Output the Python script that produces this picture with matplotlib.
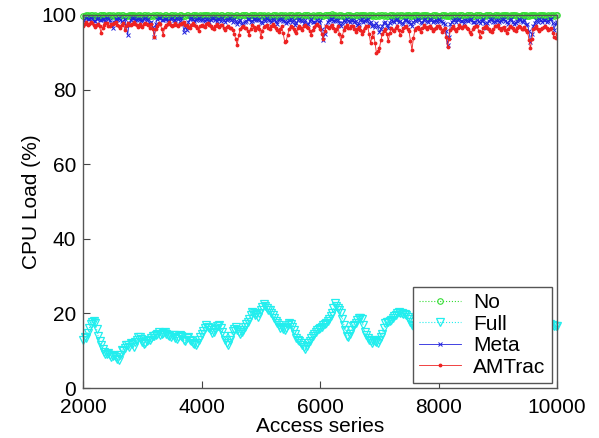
import numpy as np
import matplotlib
matplotlib.use("Agg")
import matplotlib.pyplot as plt

plt.rcParams['font.family'] = ['Liberation Sans', 'DejaVu Sans']

# CPU load (%) sampled every 25 accesses from 2000 to 10000
no_load = [
    99.8, 99.6, 100.0, 99.9, 99.7, 100.1, 99.9, 99.7, 100.0, 99.8, 99.6, 99.9, 99.9, 100.1, 100.0, 99.7, 99.8, 99.9, 99.9, 99.6,
    100.0, 99.8, 99.7, 100.1, 99.9, 99.6, 100.0, 99.9, 99.8, 99.7, 99.6, 99.9, 99.9, 100.1, 100.0, 99.8, 99.7, 99.9, 99.9, 99.6,
    99.8, 100.0, 100.0, 99.7, 99.9, 99.8, 99.6, 100.0, 99.8, 99.9, 100.0, 99.7, 99.9, 99.6, 99.7, 100.1, 100.0, 99.8, 99.8, 99.9,
    99.9, 99.6, 100.0, 99.8, 99.7, 100.1, 99.9, 99.8, 99.8, 99.6, 100.0, 99.9, 99.6, 99.8, 99.9, 100.1, 100.0, 99.7, 99.8, 99.9,
    99.7, 99.9, 99.9, 100.1, 100.0, 99.7, 99.8, 99.9, 99.9, 99.6, 100.0, 99.8, 99.7, 100.0, 99.9, 99.6, 99.8, 100.0, 100.0, 99.7,
    99.9, 99.8, 99.7, 100.0, 100.0, 99.6, 99.8, 99.9, 99.9, 100.1, 100.0, 99.7, 99.6, 99.9, 99.9, 100.0, 100.0, 99.7, 99.8, 99.9,
    99.9, 99.7, 100.0, 99.8, 99.8, 100.1, 99.7, 99.6, 100.0, 99.9, 99.9, 99.7, 99.8, 100.0, 100.0, 99.8, 99.9, 99.6, 99.7, 99.9,
    100.0, 99.9, 99.8, 99.7, 99.9, 100.1, 100.0, 99.8, 99.7, 99.9, 99.9, 100.0, 100.0, 99.7, 99.8, 99.9, 99.6, 99.8, 99.9, 100.1,
    100.0, 99.7, 99.8, 99.9, 99.9, 100.0, 100.0, 99.8, 100.2, 100.0, 99.9, 99.7, 99.8, 99.9, 100.0, 99.8, 99.7, 99.6, 99.9, 100.0,
    100.0, 99.8, 99.8, 99.6, 99.9, 100.0, 99.7, 99.9, 100.0, 100.1, 99.9, 99.7, 99.8, 99.9, 100.0, 99.8, 99.9, 99.6, 99.7, 99.9,
    99.8, 99.9, 100.0, 99.8, 99.9, 99.6, 99.7, 99.9, 100.0, 100.1, 99.8, 99.7, 99.9, 99.8, 100.0, 100.0, 99.8, 99.6, 99.9, 99.9,
    100.0, 99.8, 99.7, 99.9, 99.9, 100.1, 100.0, 99.7, 99.8, 99.9, 99.9, 100.0, 100.0, 99.6, 99.7, 99.8, 99.9, 100.1, 100.0, 99.8,
    99.8, 99.7, 99.9, 100.0, 100.0, 99.8, 99.7, 99.6, 99.9, 99.8, 100.0, 100.1, 99.8, 99.7, 99.9, 99.9, 100.0, 99.8, 99.8, 99.9,
    99.9, 100.0, 100.0, 99.7, 99.7, 99.9, 99.9, 100.1, 100.0, 99.8, 99.8, 99.7, 99.9, 99.9, 100.0, 100.0, 99.8, 99.6, 99.9, 100.0,
    100.0, 99.8, 99.8, 99.9, 99.9, 100.1, 100.0, 99.7, 99.7, 99.9, 99.9, 100.0, 100.0, 99.8, 99.8, 99.7, 99.9, 99.9, 100.0, 100.1,
    99.8, 99.7, 99.9, 99.9, 100.0, 100.0, 99.7, 99.8, 99.9, 99.9, 100.0, 100.1, 99.8, 99.7, 99.9, 99.8, 100.0, 99.9, 99.8, 99.9,
    100.0,
]

full_load = [
    12.9, 13.6, 13.5, 14.8, 16.0, 17.2, 17.8, 18.0, 17.5, 15.8, 14.0, 12.6, 11.5, 10.4, 9.7, 9.2, 9.0, 9.3, 8.8, 8.4,
    8.5, 8.9, 8.2, 7.8, 7.5, 8.8, 10.3, 10.0, 10.8, 11.6, 11.5, 11.0, 12.0, 11.8, 11.0, 12.3, 13.0, 13.8, 13.7, 13.1,
    12.4, 11.9, 12.0, 12.6, 13.0, 12.8, 13.5, 13.9, 14.0, 14.2, 14.6, 14.9, 14.2, 14.5, 14.8, 15.0, 14.6, 14.2, 14.0, 13.7,
    14.3, 14.1, 13.5, 13.2, 13.7, 14.3, 14.0, 13.6, 13.0, 12.7, 13.3, 13.8, 13.0, 12.5, 12.2, 11.8, 11.5, 12.0, 13.0, 13.8,
    14.5, 15.2, 16.0, 16.8, 16.4, 16.0, 15.5, 14.8, 15.1, 15.8, 16.5, 16.7, 16.9, 16.0, 15.0, 14.0, 13.0, 12.0, 11.5, 12.8,
    14.0, 15.2, 15.9, 16.4, 15.5, 14.9, 14.6, 15.0, 15.5, 16.3, 17.3, 17.8, 18.5, 19.6, 20.4, 20.0, 19.5, 19.8, 19.1, 20.2,
    21.0, 21.8, 22.4, 22.0, 21.5, 21.0, 20.9, 20.2, 19.5, 18.8, 18.0, 17.5, 16.8, 16.2, 16.4, 15.8, 15.5, 16.2, 17.0, 17.5,
    17.3, 16.4, 15.5, 14.5, 13.5, 13.0, 12.5, 12.0, 11.5, 11.0, 10.6, 11.3, 12.0, 12.7, 13.5, 14.0, 14.5, 14.9, 15.5, 15.8,
    16.0, 16.3, 16.9, 17.2, 17.5, 18.0, 18.5, 19.2, 20.0, 21.4, 22.8, 22.0, 21.5, 20.8, 20.0, 18.5, 17.0, 15.5, 14.0, 13.8,
    14.5, 15.5, 16.5, 17.0, 17.5, 18.2, 18.7, 18.9, 18.5, 16.8, 15.0, 14.2, 13.5, 13.0, 12.5, 12.2, 12.8, 12.5, 12.4, 12.0,
    12.9, 13.6, 14.5, 16.0, 17.5, 17.6, 17.8, 18.0, 18.2, 18.8, 19.3, 19.6, 20.0, 20.3, 20.2, 20.0, 19.8, 19.9, 19.5, 19.0,
    18.5, 17.8, 17.0, 16.5, 16.0, 15.4, 15.0, 15.8, 16.5, 17.2, 18.0, 18.6, 19.0, 18.5, 18.0, 17.0, 16.0, 15.2, 14.5, 14.0,
    13.5, 14.2, 15.0, 15.8, 16.5, 17.0, 17.5, 18.3, 19.0, 19.8, 20.5, 20.0, 19.5, 18.8, 18.0, 17.2, 16.5, 15.8, 15.0, 14.5,
    14.0, 14.8, 15.5, 16.2, 17.0, 17.5, 18.0, 17.5, 17.0, 16.2, 15.5, 15.0, 14.5, 13.8, 13.0, 13.5, 14.0, 14.8, 15.5, 16.2,
    17.0, 17.8, 18.5, 19.0, 19.5, 18.8, 18.0, 17.2, 16.5, 15.8, 15.0, 14.5, 14.0, 14.5, 15.0, 15.5, 16.0, 16.8, 17.5, 18.0,
    18.5, 18.0, 17.5, 16.8, 16.0, 15.5, 15.0, 14.8, 14.5, 15.0, 15.5, 16.0, 16.5, 17.0, 17.5, 17.2, 17.0, 16.8, 16.5, 16.5,
    16.5,
]

meta_load = [
    98.6, 98.2, 99.2, 98.9, 98.8, 99.3, 99.0, 98.4, 98.3, 98.8, 99.1, 98.6, 98.5, 99.0, 98.9, 98.1, 99.3, 98.8, 98.7, 97.6,
    96.5, 98.2, 98.8, 99.0, 99.1, 98.6, 98.4, 97.8, 99.0, 97.2, 94.6, 97.9, 98.7, 99.1, 99.2, 98.5, 98.6, 98.9, 99.0, 98.3,
    98.5, 98.9, 99.1, 98.6, 98.8, 97.5, 98.2, 96.8, 94.2, 97.6, 98.9, 99.2, 99.2, 98.7, 98.6, 99.0, 99.0, 98.5, 98.4, 98.9,
    99.1, 98.6, 98.7, 99.2, 98.9, 98.4, 99.3, 97.8, 95.5, 96.8, 96.0, 98.2, 98.8, 99.1, 99.0, 98.4, 98.5, 98.9, 99.1, 98.5,
    98.7, 99.0, 98.3, 98.8, 99.0, 98.2, 98.6, 99.1, 99.2, 98.5, 98.4, 98.9, 98.8, 98.3, 99.1, 98.7, 98.2, 98.6, 98.9, 99.1,
    98.5, 98.1, 98.9, 98.4, 97.5, 98.2, 98.7, 97.9, 97.0, 98.0, 98.3, 98.8, 98.9, 98.2, 98.4, 98.8, 99.0, 98.5, 98.6, 98.9,
    98.2, 97.8, 98.8, 98.4, 99.1, 98.7, 98.5, 98.0, 98.9, 98.6, 98.3, 97.6, 98.7, 98.9, 99.0, 98.3, 98.4, 97.9, 98.1, 98.6,
    98.8, 98.2, 98.5, 97.4, 97.9, 98.5, 98.9, 98.6, 98.3, 97.8, 98.6, 97.2, 97.5, 98.4, 98.8, 98.1, 98.2, 97.6, 98.7, 98.1,
    98.5, 96.2, 93.3, 94.8, 97.0, 98.1, 98.6, 98.9, 99.0, 98.4, 98.3, 98.7, 98.7, 97.9, 97.0, 97.8, 98.5, 98.2, 98.9, 98.4,
    98.2, 98.6, 98.7, 98.1, 98.4, 97.3, 97.6, 98.5, 98.8, 98.2, 98.3, 98.7, 98.9, 97.7, 98.0, 97.1, 97.2, 96.8, 97.8, 96.9,
    95.4, 96.2, 97.0, 97.9, 98.2, 97.4, 96.5, 97.8, 98.6, 98.4, 98.0, 98.7, 98.8, 98.1, 98.3, 97.9, 97.6, 98.5, 98.7, 98.3,
    98.2, 97.6, 97.0, 98.0, 98.6, 98.3, 98.9, 98.5, 98.1, 97.8, 98.7, 98.9, 98.4, 98.0, 98.9, 98.6, 98.0, 98.4, 98.6, 98.2,
    98.8, 98.4, 98.3, 97.9, 97.5, 95.6, 92.0, 94.2, 97.5, 98.1, 98.6, 98.9, 98.2, 98.5, 98.9, 98.3, 98.4, 97.9, 98.7, 98.5,
    98.3, 98.6, 98.8, 98.2, 98.0, 97.6, 98.6, 98.3, 97.8, 98.4, 98.9, 97.7, 96.5, 97.8, 98.4, 98.8, 98.8, 98.1, 98.2, 98.6,
    98.7, 98.2, 98.3, 98.8, 98.9, 98.4, 98.0, 97.6, 98.6, 98.9, 98.2, 97.5, 97.8, 98.3, 98.8, 98.5, 98.4, 98.0, 98.6, 97.4,
    97.5, 95.6, 92.8, 95.0, 97.0, 97.9, 98.5, 98.2, 98.8, 98.5, 98.2, 98.7, 98.7, 98.1, 98.4, 98.8, 98.9, 97.8, 96.0, 97.6,
    98.2,
]

amtrac_load = [
    97.0, 97.6, 98.0, 97.2, 97.5, 98.1, 97.8, 97.3, 96.8, 97.4, 97.5, 96.9, 95.1, 96.6, 97.2, 97.7, 97.8, 97.1, 96.9, 97.5,
    97.6, 97.9, 98.1, 97.4, 97.0, 96.5, 97.4, 97.9, 96.0, 96.9, 97.8, 97.3, 97.2, 97.6, 98.0, 97.5, 97.3, 96.7, 97.6, 97.1,
    96.8, 97.5, 97.9, 97.6, 97.2, 96.4, 97.5, 96.1, 94.2, 96.3, 97.0, 97.8, 97.6, 96.2, 94.6, 96.7, 97.3, 97.6, 98.0, 97.2,
    97.1, 97.4, 97.7, 97.2, 96.9, 97.6, 97.5, 97.9, 98.0, 97.4, 97.2, 96.8, 96.5, 97.3, 97.8, 97.4, 97.0, 96.4, 95.6, 96.9,
    97.4, 97.0, 96.8, 97.5, 97.7, 97.2, 97.0, 96.5, 96.2, 96.9, 97.5, 97.1, 96.8, 97.4, 97.3, 96.6, 96.0, 96.7, 97.1, 96.5,
    96.5, 96.0, 95.0, 93.5, 91.9, 94.6, 96.2, 96.8, 97.0, 96.6, 96.4, 95.8, 94.6, 96.3, 97.2, 96.8, 96.0, 96.5, 97.0, 96.2,
    94.0, 95.8, 96.8, 97.1, 97.2, 96.5, 96.1, 96.9, 97.5, 97.0, 96.6, 95.9, 95.5, 96.3, 96.9, 95.2, 92.8, 93.0, 94.5, 96.2,
    97.0, 96.7, 96.3, 95.8, 95.2, 96.4, 97.1, 96.5, 96.0, 96.9, 97.4, 96.8, 96.5, 95.6, 94.7, 95.9, 96.8, 97.2, 97.5, 96.9,
    96.2, 95.0, 93.5, 95.6, 97.0, 96.8, 96.4, 97.0, 97.3, 96.6, 95.8, 96.3, 96.9, 94.9, 92.8, 94.4, 96.0, 96.7, 97.2, 96.5,
    96.5, 96.9, 97.0, 96.2, 95.5, 96.3, 96.8, 95.9, 95.0, 95.8, 96.6, 96.9, 97.1, 95.0, 92.5, 94.0, 95.5, 92.6, 89.8, 90.3,
    91.0, 93.2, 95.0, 95.7, 96.2, 95.0, 93.0, 95.1, 96.5, 96.0, 95.8, 96.6, 97.0, 96.0, 94.5, 95.6, 96.4, 96.8, 97.0, 96.3,
    95.6, 93.0, 90.6, 93.8, 96.0, 96.5, 96.8, 96.1, 95.5, 96.4, 97.2, 96.7, 96.3, 96.8, 97.0, 96.4, 95.8, 96.3, 96.6, 97.0,
    97.1, 96.4, 95.5, 96.0, 96.4, 94.2, 91.4, 93.5, 96.0, 96.6, 96.9, 96.2, 95.6, 96.5, 97.2, 96.8, 96.5, 96.9, 97.0, 96.4,
    96.2, 95.5, 95.0, 96.1, 96.8, 97.0, 97.1, 95.8, 94.0, 95.4, 96.5, 96.8, 97.0, 96.6, 96.2, 95.6, 95.3, 96.2, 96.9, 97.1,
    97.2, 96.6, 96.0, 96.5, 96.7, 95.9, 95.2, 96.3, 97.0, 96.8, 96.4, 95.9, 95.6, 96.5, 97.1, 96.7, 96.3, 96.2, 96.8, 96.0,
    95.5, 93.4, 91.0, 93.6, 96.2, 96.6, 96.9, 96.3, 95.8, 96.1, 96.4, 96.8, 97.0, 96.4, 95.9, 96.2, 96.5, 95.2, 94.0, 93.8,
    95.0,
]

x_start, x_end = 2000, 10000


def xs(vals):
    return np.linspace(x_start, x_end, len(vals))


fig = plt.figure(figsize=(5.99, 4.38), dpi=100)
ax = fig.add_axes([0.139, 0.114, 0.791, 0.852])

ax.plot(xs(no_load), no_load, ls=':', lw=0.8, color='#33dd33', marker='o',
        ms=4, mfc='none', mew=0.8, label='No', clip_on=False)
ax.plot(xs(full_load), full_load, ls=':', lw=0.8, color='#22eeee', marker='v',
        ms=6, mfc='none', mew=0.9, label='Full', clip_on=False)
ax.plot(xs(meta_load), meta_load, ls='-', lw=0.6, color='#2222dd', marker='x',
        ms=3.5, mew=0.7, label='Meta')
ax.plot(xs(amtrac_load), amtrac_load, ls='-', lw=0.6, color='#ee2222', marker='.',
        ms=3.5, label='AMTrac')

ax.set_xlim(2000, 10000)
ax.set_ylim(0, 100)
ax.set_xticks([2000, 4000, 6000, 8000, 10000])
ax.set_yticks([0, 20, 40, 60, 80, 100])
ax.tick_params(direction='in', labelsize=15, length=5, color='#444444')
ax.tick_params(axis='x', pad=7)
ax.tick_params(axis='y', pad=5)
for s in ax.spines.values():
    s.set_color('#555555')
    s.set_linewidth(1.0)

ax.set_xlabel('Access series', fontsize=15, labelpad=0)
ax.set_ylabel('CPU Load (%)', fontsize=15, labelpad=0)

leg = ax.legend(loc='lower right', fontsize=15, handlelength=2.0,
                labelspacing=0.12, borderpad=0.3, handletextpad=0.6,
                borderaxespad=0.25, fancybox=False, framealpha=1)
leg.get_frame().set_edgecolor('#555555')
leg.get_frame().set_linewidth(1.0)

fig.savefig('out.png', dpi=100)
